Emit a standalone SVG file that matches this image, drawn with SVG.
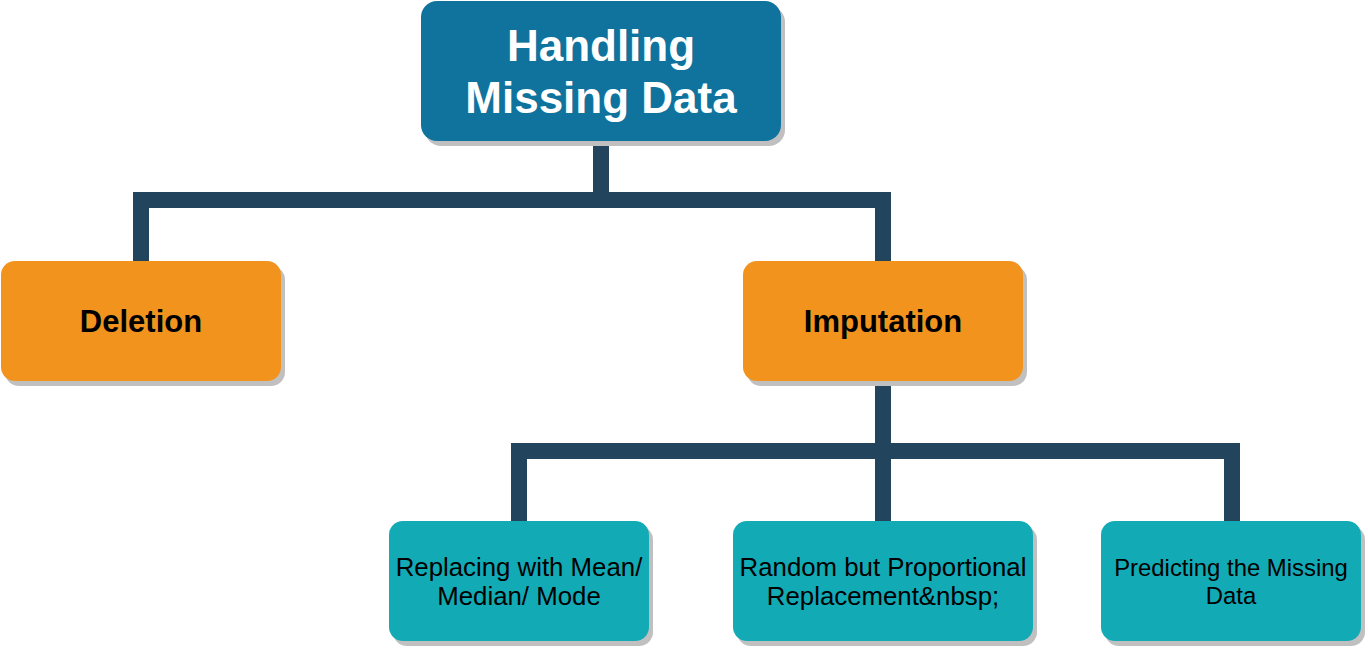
<svg xmlns="http://www.w3.org/2000/svg" width="1368" height="652" viewBox="0 0 1368 652">
<style>
.shadow{fill:#c0c0c0}
.root{fill:#10739E}
.mid{fill:#F2931E}
.leaf{fill:#12AAB5}
.edge{fill:none;stroke:#23445D;stroke-width:16;stroke-linejoin:miter;stroke-linecap:butt}
.t{font-family:"Liberation Sans",Arial,sans-serif;text-anchor:middle}
.tb{font-weight:bold}
</style>
<rect width="1368" height="652" fill="#ffffff"/>
<g id="connectors">
<path class="edge" d="M601,141 V200 H141 V261"/>
<path class="edge" d="M601,192 V208"/>
<path class="edge" d="M601,200 H883 V261"/>
<path class="edge" d="M883,381 V521"/>
<path class="edge" d="M883,451 H519 V521"/>
<path class="edge" d="M883,451 H1232 V521"/>
</g>
<g id="node-root">
<rect class="shadow" x="425" y="6" width="360" height="140" rx="16"/>
<rect class="root" x="421" y="1" width="360" height="140" rx="16"/>
<text class="t tb" x="601" y="61" font-size="44" fill="#ffffff">Handling</text>
<text class="t tb" x="601" y="113" font-size="44" fill="#ffffff">Missing Data</text>
</g>
<g id="node-deletion">
<rect class="shadow" x="5" y="266" width="280" height="120" rx="14"/>
<rect class="mid" x="1" y="261" width="280" height="120" rx="14"/>
<text class="t tb" x="141" y="332" font-size="31" fill="#000000">Deletion</text>
</g>
<g id="node-imputation">
<rect class="shadow" x="747" y="266" width="280" height="120" rx="14"/>
<rect class="mid" x="743" y="261" width="280" height="120" rx="14"/>
<text class="t tb" x="883" y="332" font-size="31" fill="#000000">Imputation</text>
</g>
<g id="node-mean">
<rect class="shadow" x="393" y="526" width="260" height="120" rx="14"/>
<rect class="leaf" x="389" y="521" width="260" height="120" rx="14"/>
<text class="t" x="519" y="576" font-size="25.8" fill="#000000">Replacing with Mean/</text>
<text class="t" x="519" y="604.5" font-size="25.8" fill="#000000">Median/ Mode</text>
</g>
<g id="node-random">
<rect class="shadow" x="737" y="526" width="300" height="120" rx="14"/>
<rect class="leaf" x="733" y="521" width="300" height="120" rx="14"/>
<text class="t" x="883" y="576" font-size="25.8" fill="#000000">Random but Proportional</text>
<text class="t" x="883" y="604.5" font-size="25.8" fill="#000000">Replacement&amp;nbsp;</text>
</g>
<g id="node-predict">
<rect class="shadow" x="1105" y="526" width="260" height="120" rx="14"/>
<rect class="leaf" x="1101" y="521" width="260" height="120" rx="14"/>
<text class="t" x="1231" y="576" font-size="23.9" fill="#000000">Predicting the Missing</text>
<text class="t" x="1231" y="603.7" font-size="23.9" fill="#000000">Data</text>
</g>
</svg>
